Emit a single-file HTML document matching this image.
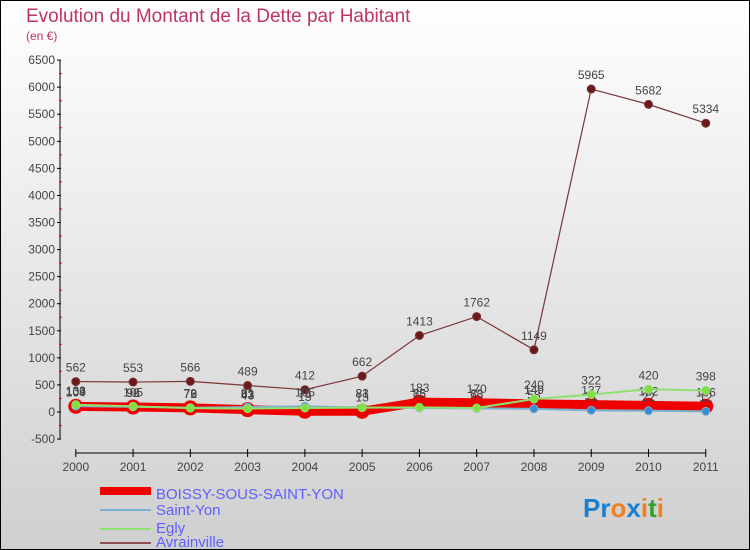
<!DOCTYPE html>
<html><head><meta charset="utf-8"><style>
body{margin:0}
svg{display:block;font-family:"Liberation Sans",sans-serif}
</style></head><body>
<svg id="chart" width="750" height="550" xmlns="http://www.w3.org/2000/svg">
<defs><linearGradient id="bg" x1="0" y1="0" x2="0" y2="1"><stop offset="0" stop-color="#ffffff"/><stop offset="1" stop-color="#cfcfcf"/></linearGradient></defs>
<rect x="0.5" y="0.5" width="749" height="549" fill="url(#bg)" stroke="#000"/>
<text x="26" y="22" font-size="19" fill="#c0336a">Evolution du Montant de la Dette par Habitant</text>
<text x="26" y="40" font-size="12" fill="#c0336a">(en €)</text>
<g id="axes"></g>
<g id="series"></g>
<g>
<rect x="100" y="487" width="51" height="8" fill="#e00"/>
<text x="156" y="499" font-size="15" fill="#6060ff">BOISSY-SOUS-SAINT-YON</text>
<line x1="100" y1="510" x2="151" y2="510" stroke="#7ab0d0" stroke-width="2"/>
<text x="156" y="515" font-size="15" fill="#6060ff">Saint-Yon</text>
<line x1="100" y1="529" x2="151" y2="529" stroke="#90e070" stroke-width="2"/>
<text x="156" y="533" font-size="15" fill="#6060ff">Egly</text>
<line x1="100" y1="543" x2="151" y2="543" stroke="#8a5050" stroke-width="2"/>
<text x="156" y="547" font-size="15" fill="#6060ff">Avrainville</text>
</g>
<text x="583" y="517" font-size="26" font-weight="bold"><tspan fill="#1a7fd0">Pr</tspan><tspan fill="#f08020">o</tspan><tspan fill="#1a7fd0">x</tspan><tspan fill="#f08020">i</tspan><tspan fill="#30a030">t</tspan><tspan fill="#f08020">i</tspan></text>
</svg>
<script>
const years=[2000,2001,2002,2003,2004,2005,2006,2007,2008,2009,2010,2011];
const boissy=[104,92,76,43,15,13,183,170,149,137,122,106];
const saintYon=[109,96,79,91,105,83,75,66,58,31,22,12];
const egly=[133,105,72,63,75,81,85,73,240,322,420,398];
const avrainville=[562,553,566,489,412,662,1413,1762,1149,5965,5682,5334];
const yTicks=[-500,0,500,1000,1500,2000,2500,3000,3500,4000,4500,5000,5500,6000,6500];
const NS="http://www.w3.org/2000/svg";
function x(i){return 75.8+i*57.27;}
function y(v){return 412-v*27.07/500;}
function mk(tag,attrs,parent){const e=document.createElementNS(NS,tag);for(const k in attrs)e.setAttribute(k,attrs[k]);parent.appendChild(e);return e;}
const ax=document.getElementById('axes');
const yl=mk('line',{x1:60,y1:y(6500),x2:60,y2:y(-500),stroke:'#000'},ax);


yTicks.forEach(t=>{
  const tk=mk('line',{x1:57,y1:y(t),x2:61,y2:y(t),stroke:'#000'},ax);
  
  
  const lb=mk('text',{x:55,y:y(t)+4,'font-size':12,'text-anchor':'end',fill:'#444'},ax);
  
  
  lb.textContent=t;
  if(t<6500){const m=mk('line',{x1:59,y1:y(t+250),x2:62,y2:y(t+250),stroke:'#e00'},ax);
  
  }
});
const xl=mk('line',{x1:x(0),y1:453,x2:x(11),y2:453,stroke:'#000'},ax);


years.forEach((yr,i)=>{
  const tk=mk('line',{x1:x(i),y1:449,x2:x(i),y2:457,stroke:'#000'},ax);
  
  
  const lb=mk('text',{x:x(i),y:471,'font-size':12,'text-anchor':'middle',fill:'#444'},ax);
  
  
  lb.textContent=yr;
});
const sg=document.getElementById('series');
function series(name,data,color,width,r,dot){
  const g=mk('g',{},sg);
  
  
  const p=mk('polyline',{points:data.map((v,i)=>x(i)+','+y(v)).join(' '),fill:'none',stroke:color,'stroke-width':width},g);
  
  
  data.forEach((v,i)=>{
    const c=mk('circle',{cx:x(i),cy:y(v),r:r,fill:dot,stroke:color,'stroke-width':1},g);
    
    
    const t=mk('text',{x:x(i),y:y(v)-10,'font-size':12,'text-anchor':'middle',fill:'#444'},g);
    
    
    t.textContent=v;
  });
}
series('avrainville',avrainville,'#7a3535',1.2,4,'#6a1a1a');
series('boissy',boissy,'#ee0000',9,7,'#ee0000');
series('saint-yon',saintYon,'#7ab0d0',2,4,'#3a8ad0');
series('egly',egly,'#90e070',2,4,'#80e040');
</script>
</body></html>
